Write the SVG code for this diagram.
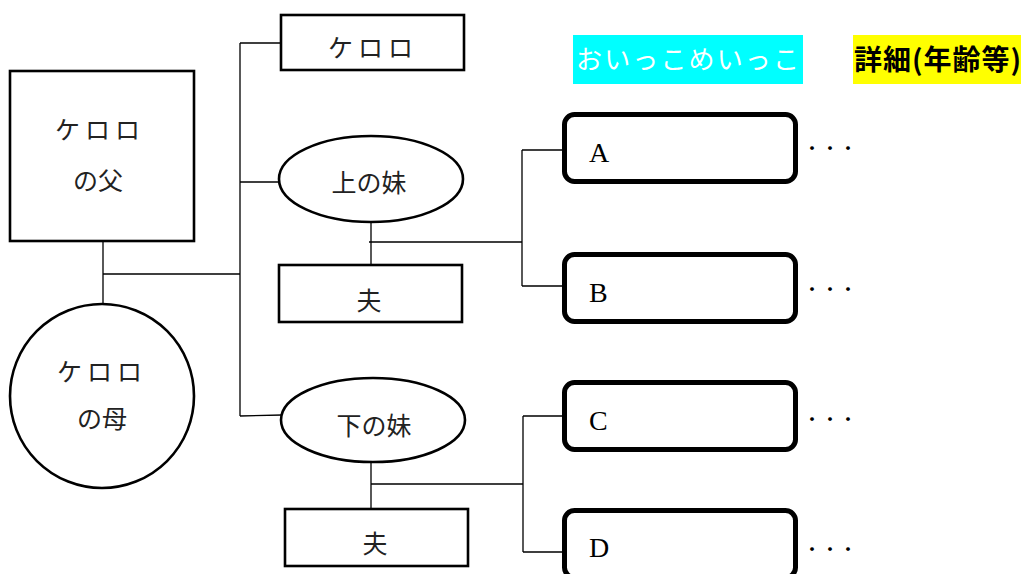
<svg xmlns="http://www.w3.org/2000/svg" width="1021" height="574" viewBox="0 0 1021 574">
<style>
.box{fill:#fff;stroke:#000;stroke-width:2.6}
.rbox{fill:#fff;stroke:#000;stroke-width:5}
.ln{fill:none;stroke:#000;stroke-width:1.3}
.jp{font-family:"Noto Sans CJK JP","Noto Sans CJK SC",sans-serif;font-size:25px;fill:#222;text-anchor:middle}
.lt{font-family:"Liberation Serif",serif;font-size:28px;fill:#000}
.dots{font-family:"Noto Sans CJK JP",sans-serif;font-size:18px;fill:#000;text-anchor:middle;dominant-baseline:central}
</style>
<rect width="1021" height="574" fill="#fff"/>
<g id="connectors">
<path class="ln" d="M103 242V304M103 274H240M240 43V416M240 43H284M240 182H279M240 416L282 415"/>
<path class="ln" d="M371 222V264M369 242H522"/>
<path class="ln" d="M371 462V508M371 484H523"/>
<path class="ln" d="M522 150V286M522 150H563M522 286H563"/>
<path class="ln" d="M523 416V552M523 416H563M523 552H563"/>
</g>
<g id="father">
<rect class="box" x="10" y="71" width="184" height="170"/>
<text class="jp" x="100" y="139" letter-spacing="5">ケロロ</text>
<text class="jp" x="98" y="190">の父</text>
</g>
<g id="mother">
<circle class="box" cx="102" cy="396" r="92"/>
<text class="jp" x="102" y="381" letter-spacing="5">ケロロ</text>
<text class="jp" x="102" y="428">の母</text>
</g>
<g id="keroro">
<rect class="box" x="281" y="15" width="183" height="55"/>
<text class="jp" x="373" y="57" letter-spacing="5">ケロロ</text>
</g>
<g id="elder-sister">
<ellipse class="box" cx="371" cy="179" rx="92" ry="43"/>
<text class="jp" x="369" y="192" font-size="27">上の妹</text>
</g>
<g id="husband1">
<rect class="box" x="279" y="265" width="183" height="57"/>
<text class="jp" x="369" y="310">夫</text>
</g>
<g id="younger-sister">
<ellipse class="box" cx="373" cy="420" rx="92" ry="42"/>
<text class="jp" x="374" y="435" font-size="27">下の妹</text>
</g>
<g id="husband2">
<rect class="box" x="285" y="509" width="183" height="57"/>
<text class="jp" x="375" y="553">夫</text>
</g>
<g id="header-nephews">
<rect x="573" y="35" width="230" height="49" fill="#00ffff"/>
<text x="576" y="69" font-family="Noto Sans CJK JP,sans-serif" font-size="26" fill="#fff" textLength="223" lengthAdjust="spacing">おいっこめいっこ</text>
</g>
<g id="header-details">
<rect x="853" y="35" width="168" height="49" fill="#ffff00"/>
<text x="854" y="70" font-family="Noto Sans CJK JP,sans-serif" font-size="28" font-weight="bold" fill="#000" textLength="167" lengthAdjust="spacing">詳細(年齢等)</text>
</g>
<g id="A">
<rect class="rbox" x="564.5" y="114.5" width="231" height="67" rx="10"/>
<text class="lt" x="589" y="162">A</text>
<text class="dots" x="830" y="147">・・・</text>
</g>
<g id="B">
<rect class="rbox" x="564.5" y="254.5" width="231" height="67" rx="10"/>
<text class="lt" x="589" y="302">B</text>
<text class="dots" x="830" y="288">・・・</text>
</g>
<g id="C">
<rect class="rbox" x="564.5" y="382.5" width="231" height="67" rx="10"/>
<text class="lt" x="589" y="430">C</text>
<text class="dots" x="830" y="418">・・・</text>
</g>
<g id="D">
<rect class="rbox" x="564.5" y="510.5" width="231" height="67" rx="10"/>
<text class="lt" x="589" y="557">D</text>
<text class="dots" x="830" y="548">・・・</text>
</g>
</svg>
